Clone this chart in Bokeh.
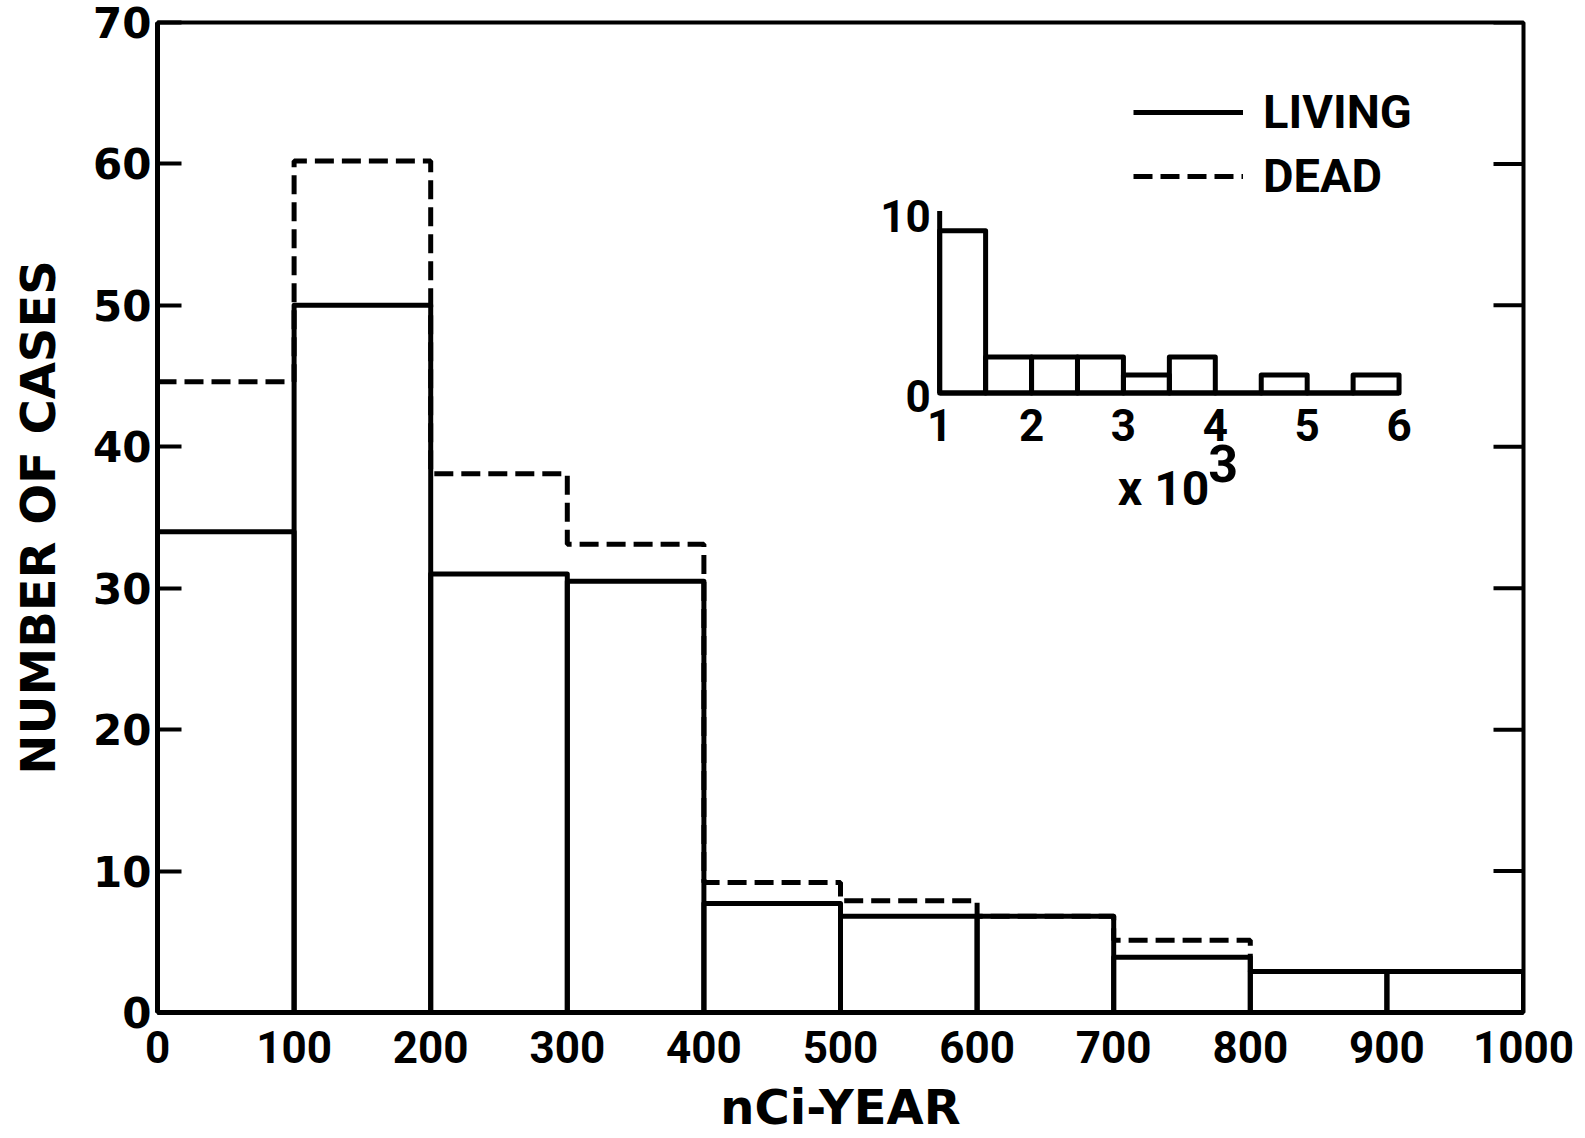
import math
from bokeh.plotting import figure
from bokeh.models import Range1d, FixedTicker, Legend, LegendItem
from bokeh.core.properties import value
from bokeh.embed import file_html
from bokeh.resources import INLINE

# ---------------- data (main histogram) ----------------
bin_edges = [0, 100, 200, 300, 400, 500, 600, 700, 800, 900, 1000]
living = [34, 50, 31, 30.5, 7.7, 6.8, 6.8, 3.9, 2.9, 2.9]
dead = [44.6, 60.2, 38.1, 33.1, 9.2, 7.9, 6.8, 5.1, 2.9, 2.9]
y_ticks = [0, 10, 20, 30, 40, 50, 60, 70]
x_ticks = [0, 100, 200, 300, 400, 500, 600, 700, 800, 900, 1000]

# ---------------- data (inset, x 10^3) ----------------
inset_edges = [1000, 1500, 2000, 2500, 3000, 3500, 4000, 4500, 5000, 5500, 6000]
inset_counts = [9, 2, 2, 2, 1, 2, 0, 1, 0, 1]
inset_x_ticks = [1000, 2000, 3000, 4000, 5000, 6000]
inset_x_labels = ["1", "2", "3", "4", "5", "6"]
inset_y_ticks = [0, 10]
inset_y_labels = ["0", "10"]

BLACK = "black"
LW = 5

p = figure(width=1584, height=1137,
           x_range=Range1d(0, 1000), y_range=Range1d(0, 70),
           output_backend="svg", toolbar_location=None,
           min_border_left=157, min_border_right=61,
           min_border_top=22, min_border_bottom=125)
p.grid.visible = False
p.outline_line_color = BLACK
p.outline_line_width = 4
p.background_fill_color = "white"
p.border_fill_color = "white"

# ---- left axis ----
ya = p.yaxis[0]
ya.ticker = FixedTicker(ticks=y_ticks)
ya.axis_line_width = LW
ya.axis_line_color = BLACK
ya.major_tick_in = 24
ya.major_tick_out = 0
ya.major_tick_line_width = 4
ya.major_tick_line_color = BLACK
ya.minor_tick_line_color = None
ya.major_label_text_font = "DejaVu Sans"
ya.major_label_text_font_style = "bold"
ya.major_label_text_font_size = "42px"
ya.major_label_text_color = BLACK
ya.major_label_standoff = 6
ya.axis_label = "NUMBER OF CASES"
ya.axis_label_text_font = "DejaVu Sans"
ya.axis_label_text_font_style = "bold"
ya.axis_label_text_font_size = "48px"
ya.axis_label_text_color = BLACK
ya.axis_label_standoff = 24

# ---- bottom axis ----
xa = p.xaxis[0]
xa.ticker = FixedTicker(ticks=x_ticks)
xa.axis_line_width = LW
xa.axis_line_color = BLACK
xa.major_tick_line_color = None
xa.minor_tick_line_color = None
xa.major_label_text_font = "Roboto"
xa.major_label_text_font_style = "bold"
xa.major_label_text_font_size = "44px"
xa.major_label_text_color = BLACK
xa.major_label_standoff = 12
xa.axis_label = "nCi-YEAR"
xa.axis_label_text_font = "DejaVu Sans"
xa.axis_label_text_font_style = "bold"
xa.axis_label_text_font_size = "48px"
xa.axis_label_text_color = BLACK
xa.axis_label_standoff = 13

# ---- right-side inward ticks ----
p.ray(x=[x_ticks[-1]] * len(y_ticks), y=y_ticks, length=30,
      length_units="screen", angle=math.pi, line_color=BLACK, line_width=4)

# ---- dead (dashed step) ----
dead_x = bin_edges
dead_y = dead + [dead[-1]]
dead_r = p.step(dead_x, dead_y, mode="after", line_color=BLACK,
                line_width=LW, line_dash="19 8")

# ---- living (solid bar outlines) ----
liv_xs = [[bin_edges[i], bin_edges[i], bin_edges[i + 1], bin_edges[i + 1]]
          for i in range(len(living))]
liv_ys = [[0, h, h, 0] for h in living]
living_r = p.multi_line(liv_xs, liv_ys, line_color=BLACK, line_width=LW,
                        line_join="round")

# ---- inset placement (fractions of the frame) ----
IN_L, IN_R = 0.5726, 0.9089
IN_B, IN_T = 0.6258, 0.8078
ix0, ix1 = inset_x_ticks[0], inset_x_ticks[-1]
xspan = (ix1 - ix0) / (IN_R - IN_L)
p.extra_x_ranges = {"ins": Range1d(ix0 - IN_L * xspan, ix0 - IN_L * xspan + xspan)}
iy0, iy1 = inset_y_ticks[0], inset_y_ticks[-1]
yspan = (iy1 - iy0) / (IN_T - IN_B)
p.extra_y_ranges = {"ins": Range1d(iy0 - IN_B * yspan, iy0 - IN_B * yspan + yspan)}
ins = dict(x_range_name="ins", y_range_name="ins")

p.quad(left=inset_edges[:-1], right=inset_edges[1:], bottom=0, top=inset_counts,
       fill_color=None, line_color=BLACK, line_width=LW, line_join="round", **ins)
p.line([ix0, ix1], [iy0, iy0], line_color=BLACK, line_width=LW, **ins)
p.line([ix0, ix0], [iy0, iy1 * 1.01], line_color=BLACK, line_width=LW, **ins)

p.text(x=inset_x_ticks, y=[iy0] * len(inset_x_ticks), text=inset_x_labels,
       text_align="center", text_baseline="top", y_offset=16,
       text_font=value("Roboto"), text_font_style="bold", text_font_size="44px",
       text_color=BLACK, **ins)
p.text(x=[ix0] * len(inset_y_ticks), y=inset_y_ticks, text=inset_y_labels,
       text_align="right", text_baseline="middle", x_offset=-9, y_offset=3,
       text_font=value("Roboto"), text_font_style="bold", text_font_size="44px",
       text_color=BLACK, **ins)
p.text(x=[4000], y=[0], text=["x 10"], text_align="right",
       text_baseline="alphabetic", x_offset=-6, y_offset=96,
       text_font=value("Roboto"), text_font_style="bold", text_font_size="48px",
       text_color=BLACK, **ins)
p.text(x=[4000], y=[0], text=["3"], text_align="left",
       text_baseline="alphabetic", x_offset=-7, y_offset=71,
       text_font=value("Roboto"), text_font_style="bold", text_font_size="52px",
       text_color=BLACK, **ins)

# ---- legend ----
legend = Legend(items=[LegendItem(label="LIVING", renderers=[living_r]),
                       LegendItem(label="DEAD", renderers=[dead_r])],
                location=(976, 809))
legend.border_line_color = None
legend.background_fill_alpha = 0
legend.padding = 0
legend.margin = 0
legend.spacing = 9
legend.glyph_width = 110
legend.glyph_height = 50
legend.label_height = 50
legend.label_standoff = 20
legend.label_text_font = "Roboto"
legend.label_text_font_style = "bold"
legend.label_text_font_size = "47px"
legend.label_text_color = BLACK
p.add_layout(legend)

open("out.html", "w").write(file_html(p, INLINE))
